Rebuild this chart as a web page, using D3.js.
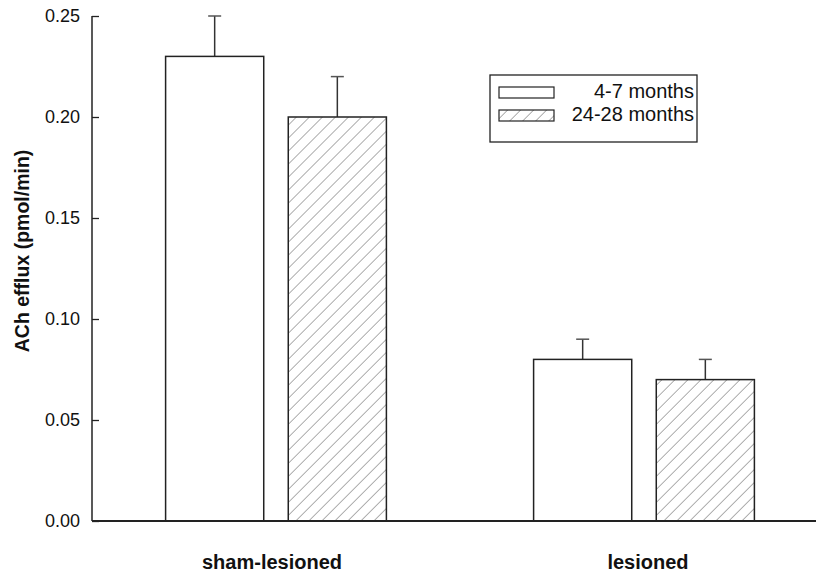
<!DOCTYPE html>
<html lang="en">
<head>
    <meta charset="UTF-8">
    <title>ACh efflux</title>
    <style>
        body { margin: 0; background: #fff; }
        svg { display: block; }
        text { font-family: "Liberation Sans", Arial, sans-serif; fill: #111; }
    </style>
</head>
<body>
    <svg id="chart" width="816" height="574"></svg>

    <script src="https://d3js.org/d3.v7.min.js"></script>
    <script>
        // Data
        var groups = ['sham-lesioned', 'lesioned'];
        var series = ['4-7 months', '24-28 months'];
        var means = [[0.23, 0.20], [0.08, 0.07]];   // per group, per series
        var errors = [[0.02, 0.02], [0.01, 0.01]];
        var yTicks = [0, 0.05, 0.10, 0.15, 0.20, 0.25];

        var svg = d3.select('#chart');
        var axisLeftX = 92, baseY = 521, topY = 16;

        // hatch pattern for the older group
        var defs = svg.append('defs');
        defs.append('pattern')
            .attr('id', 'hatch')
            .attr('patternUnits', 'userSpaceOnUse')
            .attr('width', 9.2)
            .attr('height', 9.2)
            .attr('patternTransform', 'rotate(45)')
            .append('line')
            .attr('x1', 0).attr('y1', 0)
            .attr('x2', 0).attr('y2', 9.2)
            .attr('stroke', '#8a8a8a')
            .attr('stroke-width', 1.4);

        var x0 = d3.scaleBand()
            .domain(groups)
            .range([axisLeftX, 828])
            .paddingInner(0.4)
            .paddingOuter(0.2);

        var x1 = d3.scaleBand()
            .domain(series)
            .range([0, x0.bandwidth()])
            .paddingInner(0.2);

        var y = d3.scaleLinear()
            .domain([0, 0.25])
            .range([baseY, topY]);

        var fills = { '4-7 months': '#fff', '24-28 months': 'url(#hatch)' };

        // bars + error bars
        groups.forEach(function(g, gi) {
            var grp = svg.append('g').attr('transform', 'translate(' + x0(g) + ',0)');
            series.forEach(function(s, si) {
                var v = means[gi][si], e = errors[gi][si];
                var bx = x1(s), bw = x1.bandwidth(), cx = bx + bw / 2;
                grp.append('line')
                    .attr('x1', cx).attr('x2', cx)
                    .attr('y1', y(v)).attr('y2', y(v + e))
                    .attr('stroke', '#333').attr('stroke-width', 1.5);
                grp.append('line')
                    .attr('x1', cx - 6.5).attr('x2', cx + 6.5)
                    .attr('y1', y(v + e)).attr('y2', y(v + e))
                    .attr('stroke', '#555').attr('stroke-width', 1.5);
                grp.append('rect')
                    .attr('x', bx).attr('y', y(v))
                    .attr('width', bw).attr('height', y(0) - y(v))
                    .attr('fill', fills[s])
                    .attr('stroke', '#222').attr('stroke-width', 1.5);
            });
            svg.append('text')
                .attr('x', x0(g) + x0.bandwidth() / 2 - (gi === 0 ? 4 : -4))
                .attr('y', 569)
                .attr('text-anchor', 'middle')
                .style('font-size', '20px')
                .style('font-weight', 'bold')
                .text(g);
        });

        // y axis, ticks pointing inwards
        var yAxis = svg.append('g')
            .attr('transform', 'translate(' + axisLeftX + ',0)')
            .call(d3.axisLeft(y).tickValues(yTicks).tickSize(-7).tickPadding(12)
                .tickFormat(d3.format('.2f')));
        yAxis.select('.domain').remove();
        yAxis.append('line')
            .attr('x1', 0).attr('x2', 0)
            .attr('y1', topY).attr('y2', baseY)
            .attr('stroke', '#222').attr('stroke-width', 1.5);
        yAxis.selectAll('.tick line').attr('stroke', '#222').attr('stroke-width', 1.3);
        yAxis.selectAll('.tick text')
            .style('font-size', '18px')
            .style('font-family', '"Liberation Sans", Arial, sans-serif')
            .attr('fill', '#111');

        // x axis line (no ticks)
        svg.append('line')
            .attr('x1', axisLeftX).attr('x2', 816)
            .attr('y1', baseY).attr('y2', baseY)
            .attr('stroke', '#222').attr('stroke-width', 1.8);

        svg.append('text')
            .attr('transform', 'translate(29,251) rotate(-90)')
            .attr('text-anchor', 'middle')
            .style('font-size', '19.5px')
            .style('font-weight', 'bold')
            .text('ACh efflux (pmol/min)');

        // legend
        var legend = svg.append('g').attr('transform', 'translate(490,75)');
        legend.append('rect')
            .attr('width', 207).attr('height', 67)
            .attr('fill', '#fff').attr('stroke', '#222').attr('stroke-width', 1.3);
        series.forEach(function(s, i) {
            legend.append('rect')
                .attr('x', 9).attr('y', 12 + i * 23)
                .attr('width', 55).attr('height', 11)
                .attr('fill', fills[s])
                .attr('stroke', '#222').attr('stroke-width', 1.2);
            legend.append('text')
                .attr('x', 204).attr('y', 23 + i * 23)
                .attr('text-anchor', 'end')
                .style('font-size', '20px')
                .text(s);
        });
    </script>
</body>
</html>
